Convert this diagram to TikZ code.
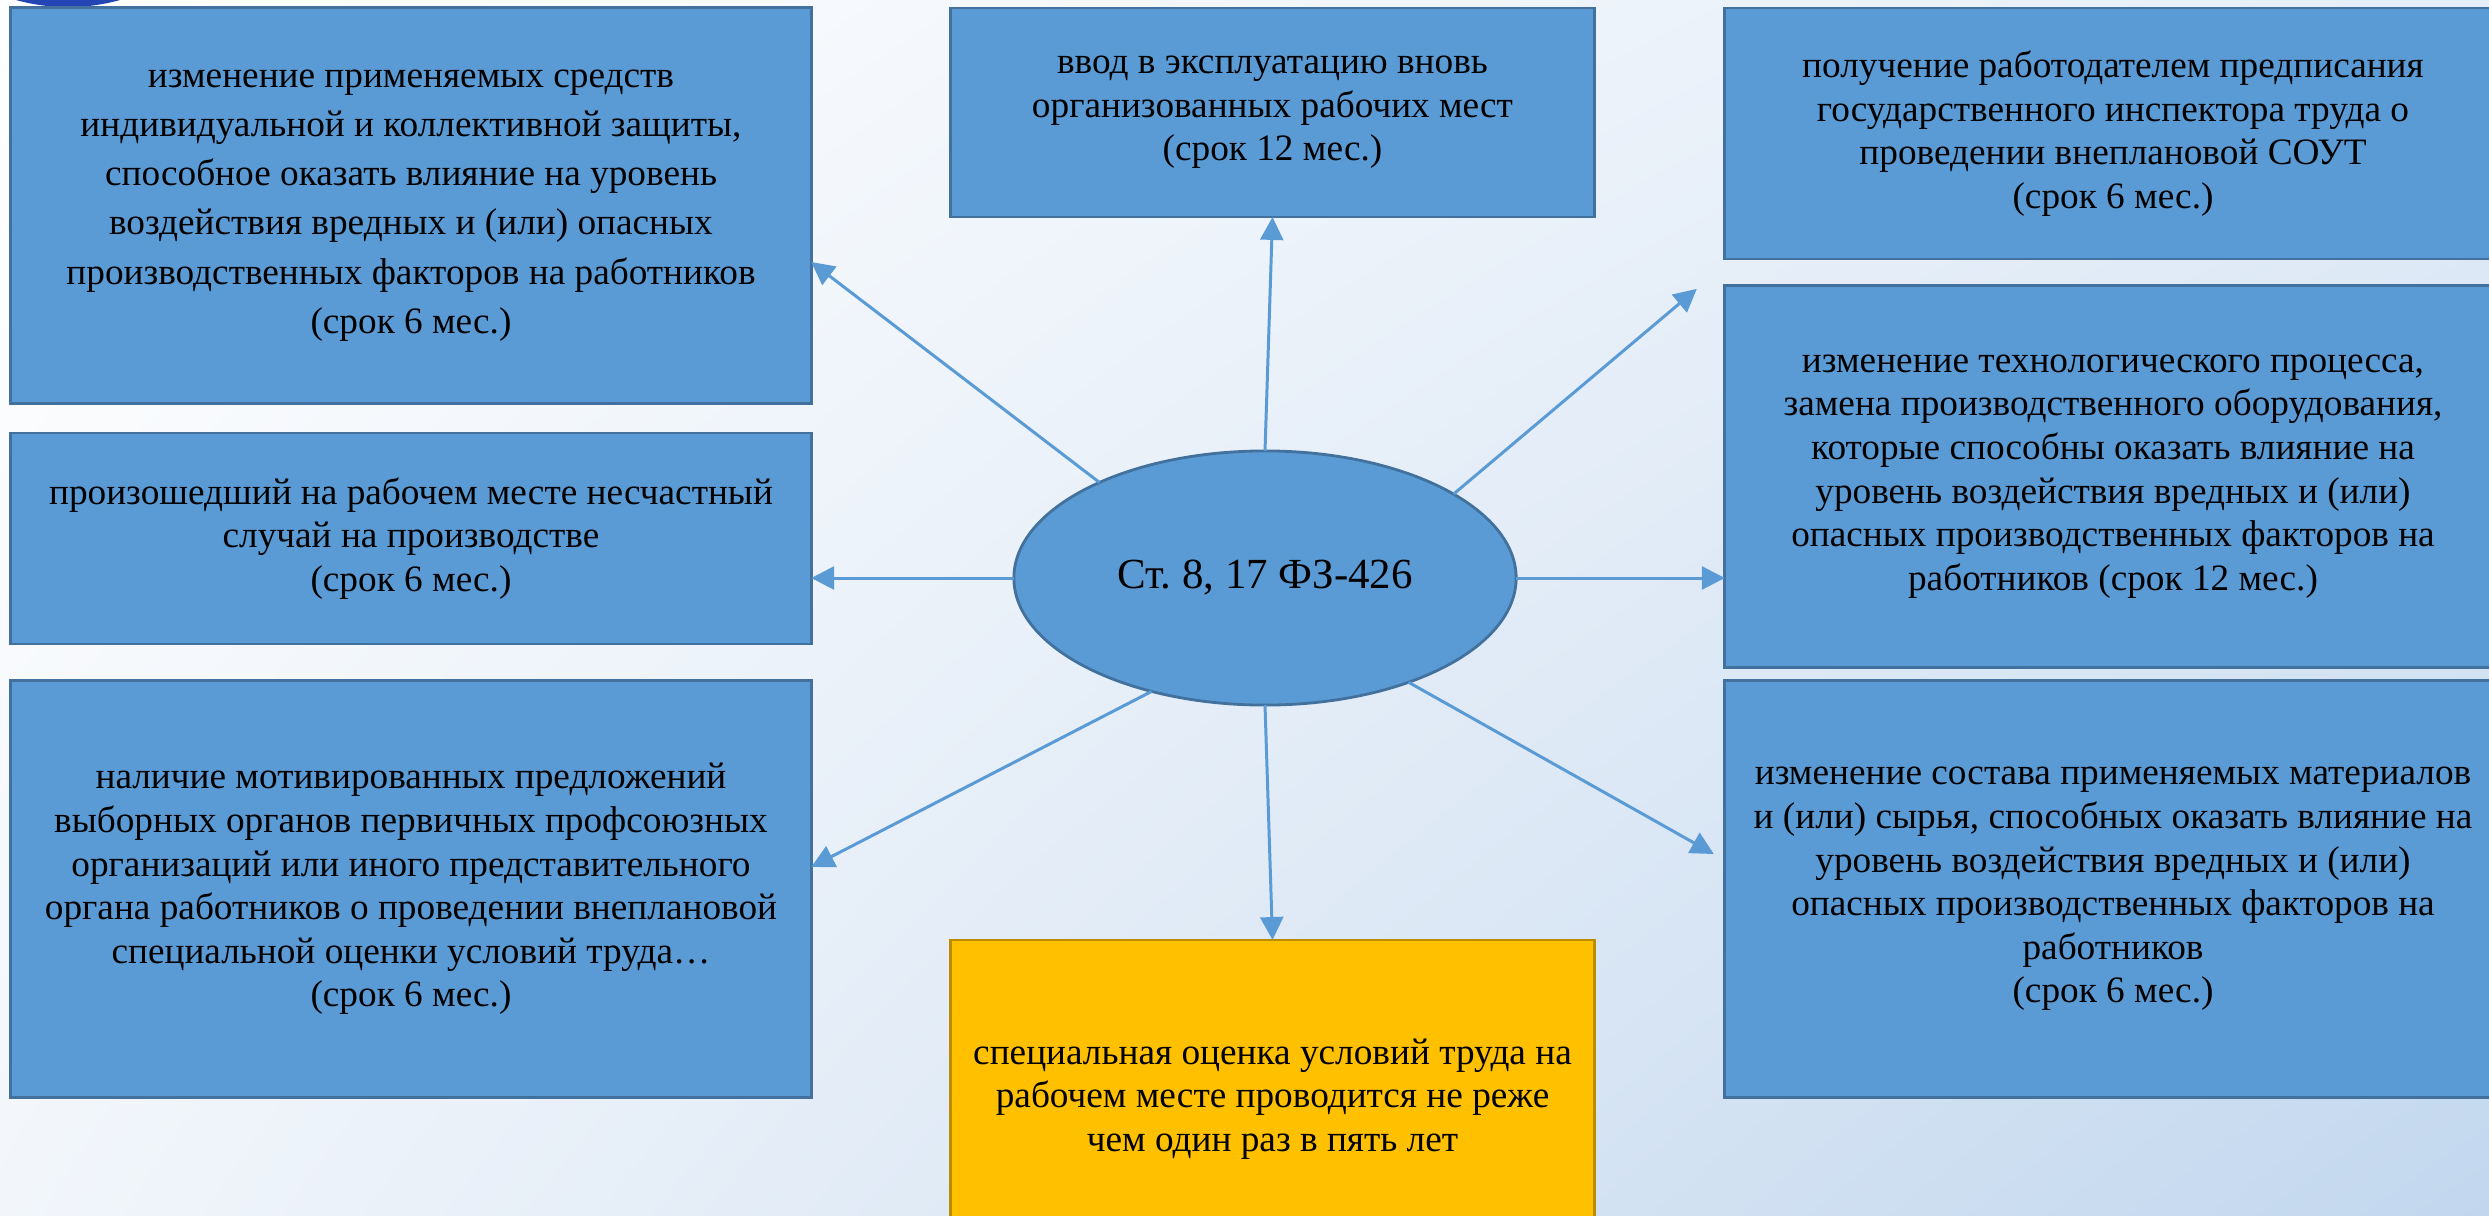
\documentclass[tikz,border=0pt]{standalone}
\usepackage{fontspec}
\setmainfont{Liberation Serif}
\frenchspacing
\usetikzlibrary{arrows.meta,shapes.geometric,shadings}
\definecolor{boxblue}{HTML}{5B9BD5}
\definecolor{boxedge}{HTML}{41719C}
\definecolor{goldfill}{HTML}{FFC000}
\definecolor{goldedge}{HTML}{BC8C00}
\definecolor{logoblue}{HTML}{2346B4}
\definecolor{bgtr}{HTML}{E4EDF8}
\definecolor{bgbr}{HTML}{C2D7EE}
\definecolor{bgbl}{HTML}{F2F6FB}
\tikzset{
  reason/.style={draw=boxedge,fill=boxblue,line width=0.8pt,align=center,
                 inner sep=0pt,outer sep=0pt,font=\fontsize{10.6}{12.4}\selectfont},
  hub/.style={ellipse,draw=boxedge,fill=boxblue,line width=0.8pt,
              minimum width=5.02cm,minimum height=2.54cm,inner sep=0pt,outer sep=0pt,
              font=\fontsize{12.2}{14}\selectfont},
  link/.style={draw=boxblue,line width=0.85pt,-{Triangle[length=6.5pt,width=6.5pt]}}
}

\begin{document}
\begin{tikzpicture}[x=0.01cm,y=-0.01cm]
 \clip (0,0) rectangle (2489,1215);
 \shade[upper left=white,upper right=bgtr,lower left=bgbl,lower right=bgbr]
   (0,0) rectangle (2489,1215);
 \fill[logoblue] (68,-186) circle[radius=1.93cm];

 \node[reason,font=\fontsize{10.6}{14}\selectfont,minimum width=8cm,minimum height=3.95cm] (tl) at (411,205.5)
   {изменение применяемых средств\\индивидуальной и коллективной защиты,\\
    способное оказать влияние на уровень\\воздействия вредных и (или) опасных\\
    производственных факторов на работников\\(срок 6 мес.)};
 \node[reason,minimum width=6.43cm,minimum height=2.09cm] (tm) at (1272.5,112.5)
   {ввод в эксплуатацию вновь\\организованных рабочих мест\\(срок 12 мес.)};
 \node[reason,minimum width=7.76cm,minimum height=2.51cm] (tr) at (2113,133.5)
   {получение работодателем предписания\\государственного инспектора труда о\\
    проведении внеплановой СОУТ\\(срок 6 мес.)};
 \node[reason,minimum width=7.76cm,minimum height=3.81cm] (r2) at (2113,476.5)
   {изменение технологического процесса,\\замена производственного оборудования,\\
    которые способны оказать влияние на\\уровень воздействия вредных и (или)\\
    опасных производственных факторов на\\работников (срок 12 мес.)};
 \node[reason,minimum width=8cm,minimum height=2.11cm] (l2) at (411,538.5)
   {произошедший на рабочем месте несчастный\\случай на производстве\\(срок 6 мес.)};
 \node[reason,minimum width=8cm,minimum height=4.16cm] (l3) at (411,889)
   {наличие мотивированных предложений\\выборных органов первичных профсоюзных\\
    организаций или иного представительного\\органа работников о проведении внеплановой\\
    специальной оценки условий труда…\\(срок 6 мес.)};
 \node[reason,minimum width=7.76cm,minimum height=4.16cm] (r3) at (2113,889)
   {изменение состава применяемых материалов\\и (или) сырья, способных оказать влияние на\\
    уровень воздействия вредных и (или)\\опасных производственных факторов на\\
    работников\\(срок 6 мес.)};
 \node[reason,fill=goldfill,draw=goldedge,minimum width=6.43cm,minimum height=3.18cm] (sout) at (1272.5,1099)
   {специальная оценка условий труда на\\рабочем месте проводится не реже\\чем один раз в пять лет};
 \node[hub] (fz) at (1265,578) {Ст. 8, 17 ФЗ-426};

 \draw[link] (fz.150) -- ([shift={(0,56.5)}]tl.east);
 \draw[link] (fz.north) -- (tm.south);
 \draw[link] (fz.24) -- ([shift={(-28,3)}]r2.north west);
 \draw[link] (fz.east) -- (fz.east -| r2.west);
 \draw[link] (fz.west) -- (fz.west -| l2.east);
 \draw[link] (fz.225) -- ([shift={(0,-22)}]l3.east);
 \draw[link] (fz.south) -- (sout.north);
 \draw[link] (fz.324) -- ([shift={(-11,-35)}]r3.west);
\end{tikzpicture}
\end{document}
